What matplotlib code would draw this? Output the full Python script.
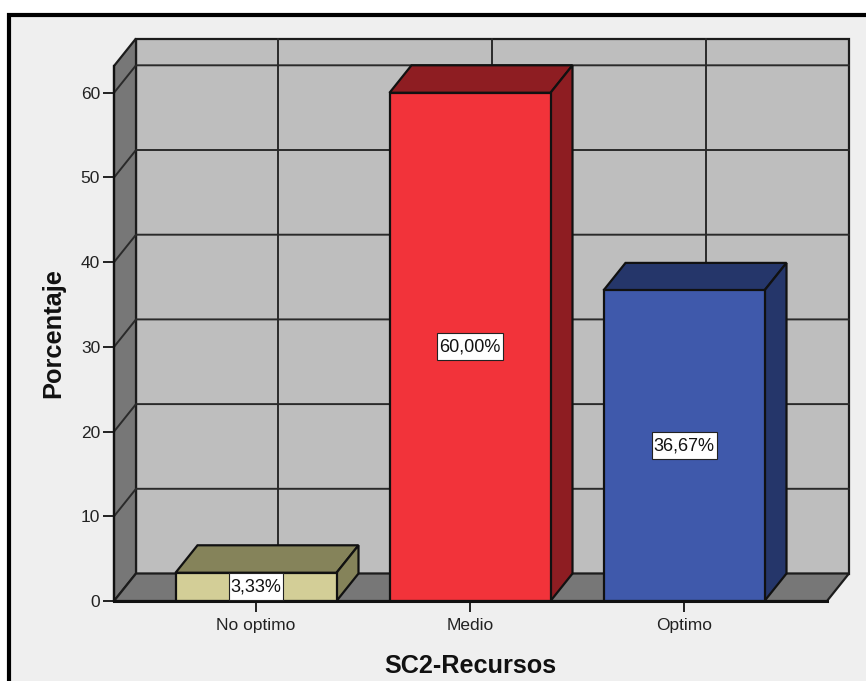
import matplotlib
matplotlib.use("Agg")
import matplotlib.pyplot as plt
from matplotlib.patches import Polygon, Rectangle

plt.rcParams["font.family"] = ["Liberation Sans", "DejaVu Sans"]

categories = ["No optimo", "Medio", "Optimo"]
values = [3.33, 60.0, 36.67]
bar_labels = ["3,33%", "60,00%", "36,67%"]
y_ticks = [0, 10, 20, 30, 40, 50, 60]

front_colors = ["#D3CE97", "#F2333A", "#3F59AB"]
dark_colors = ["#85835A", "#8E1D22", "#25366A"]

W, H = 866, 681
# axes box in pixels (front plane of the fake 3D frame)
left, right, top, bottom = 114, 827, 66, 601
x_step = 214.0
y_step = 8.47
DX = 22 / x_step   # depth offset in data units
DY = 27.5 / y_step
BAR_W = 161 / x_step
LINE = "#1c1c1c"

fig = plt.figure(figsize=(W / 100, H / 100), dpi=100, facecolor="white")
# panel background, only its top and left edges stay inside the image
fig.add_artist(Rectangle((9 / W, -0.1), 1.1, 1.1 - 15 / H, transform=fig.transFigure,
                         facecolor="#EFEFEF", edgecolor="black", linewidth=3, zorder=-1))

ax = fig.add_axes([left / W, 1 - bottom / H, (right - left) / W, (bottom - top) / H])
ax.patch.set_visible(False)
ax.set_xlim((left - 256) / x_step, (right - 256) / x_step)
ax.set_ylim(0, (bottom - top) / y_step)
x0, x1 = ax.get_xlim()
y0, y1 = ax.get_ylim()


def poly(points, face, z=1, lw=1.6, edge=LINE):
    ax.add_patch(Polygon(points, closed=True, facecolor=face, edgecolor=edge,
                         linewidth=lw, zorder=z, clip_on=False))


# back wall, side wall, floor
poly([(x0 + DX, DY), (x1 + DX, DY), (x1 + DX, y1 + DY), (x0 + DX, y1 + DY)], "#BEBEBE", 1)
poly([(x0, 0), (x0 + DX, DY), (x0 + DX, y1 + DY), (x0, y1)], "#777777", 1)
poly([(x0, 0), (x1, 0), (x1 + DX, DY), (x0 + DX, DY)], "#777777", 1)

# gridlines on the walls
for t in y_ticks[1:]:
    ax.plot([x0, x0 + DX, x1 + DX], [t, t + DY, t + DY], color="#2a2a2a", lw=1.4,
            zorder=2, clip_on=False)
for i in range(len(categories)):
    ax.plot([i + DX, i + DX], [DY, y1 + DY], color="#2a2a2a", lw=1.4, zorder=2, clip_on=False)

# bars
renderer = fig.canvas.get_renderer()
for i, (v, c, d, lab) in enumerate(zip(values, front_colors, dark_colors, bar_labels)):
    a, b = i - BAR_W / 2, i + BAR_W / 2
    poly([(a, v), (b, v), (b + DX, v + DY), (a + DX, v + DY)], d, 3, edge="#111111")
    poly([(b, 0), (b + DX, DY), (b + DX, v + DY), (b, v)], d, 3, edge="#111111")
    poly([(a, 0), (b, 0), (b, v), (a, v)], c, 4, edge="#111111")
    txt = ax.text(i, v / 2, lab, ha="center", va="center", fontsize=13, color="#111111", zorder=7)
    # label box is wider than tall compared to a plain text bbox, so size it by hand
    box_w = (txt.get_window_extent(renderer).width + 4) / x_step
    box_h = 27 / y_step
    ax.add_patch(Rectangle((i - box_w / 2, v / 2 - box_h / 2), box_w, box_h, facecolor="white",
                           edgecolor="#222222", linewidth=0.8, zorder=6, clip_on=False))

# front edge lines
ax.plot([x0, x1], [0, 0], color="#111111", lw=2.2, zorder=5, clip_on=False)
ax.plot([x0, x0], [0, y1], color="#111111", lw=1.6, zorder=5, clip_on=False)

for s in ax.spines.values():
    s.set_visible(False)
ax.set_yticks(y_ticks)
ax.set_xticks(range(len(categories)))
ax.set_xticklabels(categories)
ax.tick_params(axis="both", length=8, width=1.4, color="#222222", labelcolor="#222222",
               labelsize=12.5, pad=2)
ax.tick_params(axis="x", pad=4)

fig.text(53 / W, 1 - 333.5 / H, "Porcentaje", rotation=90, ha="center", va="center",
         fontsize=18.3, fontweight="bold", color="#111111")
fig.text(470.5 / W, 1 - 666 / H, "SC2-Recursos", ha="center", va="center",
         fontsize=18.2, fontweight="bold", color="#111111")

fig.savefig("out.png", dpi=100, facecolor="white")
